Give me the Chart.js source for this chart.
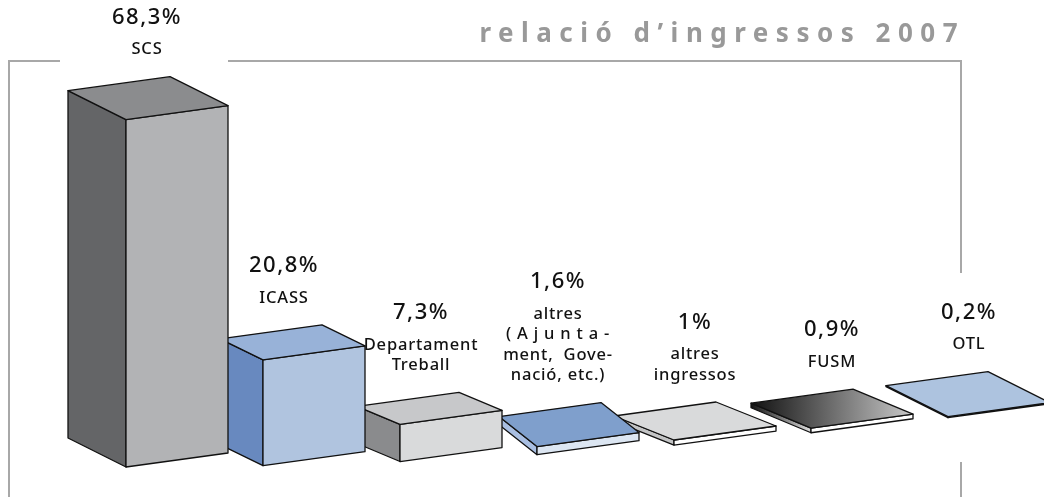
<!DOCTYPE html>
<html>
<head>
<meta charset="utf-8">
<title>relació d'ingressos 2007</title>
<script src="https://cdn.jsdelivr.net/npm/chart.js@4.4.1/dist/chart.umd.min.js"></script>
<style>
  body { margin: 0; background: #ffffff; }
  #wrap { width: 1044px; height: 497px; }
</style>
</head>
<body>
<div id="wrap"><canvas id="ingressosChart" width="1044" height="497"></canvas></div>
<script>
// data
const categories = ["SCS", "ICASS", "Departament Treball", "altres (Ajuntament, Governació, etc.)", "altres ingressos", "FUSM", "OTL"];
const labelLines = [
    ["SCS"],
    ["ICASS"],
    ["Departament", "Treball"],
    ["altres", "( A j u n t a -", "ment,  Gove-", "nació, etc.)"],
    ["altres", "ingressos"],
    ["FUSM"],
    ["OTL"]
];
const percentages = [68.3, 20.8, 7.3, 1.6, 1, 0.9, 0.2];
const chartTitle = "relació d’ingressos 2007";

// styles: [left face, front face, top face]; arrays of two colours are gradients
const faceColors = [
    ["#646567", "#b2b3b5", "#8b8c8e"],
    ["#6889bf", "#b0c4df", "#98b2d8"],
    ["#8a8b8d", "#d9dadb", "#c7c8ca"],
    ["#a9bfe2", "#dce6f2", "#7f9fcc"],
    ["#c3c4c5", "#ffffff", "#d9dadb"],
    [["#111111", "#dddddd"], "#ffffff", ["#111111", "#c9c9c9"]],
    ["#8aa5cc", "#ffffff", "#adc3df"]
];
const depthVec = [[-58, -29], [-43, -21], [-43, -18], [-38, -30], [-60, -24], [-60, -25], [-62, -31]];
const sideVec = [102, -14];

function percentText(v) {
    return String(v).replace(".", ",") + "%";
}

function fillFor(ctx, c, xa, xb) {
    if (!Array.isArray(c)) return c;
    const g = ctx.createLinearGradient(xa, 0, xb, 0);
    g.addColorStop(0, c[0]);
    g.addColorStop(1, c[1]);
    return g;
}

function poly(ctx, pts, fill) {
    ctx.beginPath();
    ctx.moveTo(pts[0][0], pts[0][1]);
    for (let i = 1; i < pts.length; i++) ctx.lineTo(pts[i][0], pts[i][1]);
    ctx.closePath();
    ctx.fillStyle = fill;
    ctx.fill();
    ctx.stroke();
}

const framePlugin = {
    id: "frameAndTitle",
    beforeDatasetsDraw(chart) {
        const ctx = chart.ctx;
        ctx.save();
        ctx.strokeStyle = "#a8a8a8";
        ctx.lineWidth = 2;
        ctx.beginPath();
        ctx.moveTo(60, 61); ctx.lineTo(9, 61); ctx.lineTo(9, 497);
        ctx.moveTo(228, 61); ctx.lineTo(961, 61); ctx.lineTo(961, 273);
        ctx.moveTo(961, 462); ctx.lineTo(961, 497);
        ctx.stroke();

        ctx.font = "bold 26px 'Noto Sans'";
        ctx.letterSpacing = "7.5px";
        ctx.fillStyle = "#999999";
        ctx.textAlign = "right";
        ctx.textBaseline = "alphabetic";
        ctx.fillText(chartTitle, 965, 42);
        ctx.restore();
    }
};

const boxPlugin = {
    id: "boxes3d",
    afterDatasetsDraw(chart) {
        const ctx = chart.ctx;
        const bars = chart.getDatasetMeta(0).data;
        const x0 = bars[0].x;
        ctx.save();
        ctx.strokeStyle = "#111111";
        ctx.lineWidth = 1.3;
        ctx.lineJoin = "round";

        // draw from right to left so nearer bars cover farther ones
        for (let i = bars.length - 1; i >= 0; i--) {
            const bar = bars[i];
            const lift = 7.3e-5 * Math.pow(bar.x - x0, 2);
            const fx = bar.x;
            const fb = bar.base - lift;
            const ft = bar.y - lift;
            const d = depthVec[i];
            const r = sideVec;
            const col = faceColors[i];

            const F = [fx, fb], T = [fx, ft];
            const add = (p, v) => [p[0] + v[0], p[1] + v[1]];

            poly(ctx, [F, add(F, d), add(T, d), T], fillFor(ctx, col[0], fx + d[0], fx));
            poly(ctx, [F, add(F, r), add(T, r), T], fillFor(ctx, col[1], fx, fx + r[0]));
            poly(ctx, [T, add(T, d), add(add(T, d), r), add(T, r)], fillFor(ctx, col[2], fx + d[0], fx + r[0]));

            // labels above the bar
            const backY = ft + d[1] + r[1];
            const cx = fx + 21;
            const lines = labelLines[i];
            const lastY = backY - 27;
            const firstY = lastY - (lines.length - 1) * 20.5;

            ctx.fillStyle = "#111111";
            ctx.textAlign = "center";
            ctx.textBaseline = "middle";
            ctx.font = "500 16.5px 'Noto Sans'";
            ctx.letterSpacing = "0.8px";
            lines.forEach((ln, k) => ctx.fillText(ln, cx, firstY + k * 20.5));

            ctx.font = "500 22px 'Noto Sans'";
            ctx.letterSpacing = "1.5px";
            ctx.fillText(percentText(percentages[i]), cx, firstY - 32);
        }
        ctx.restore();
    }
};

const ctx = document.getElementById("ingressosChart");

new Chart(ctx, {
    type: "bar",
    data: {
        labels: categories,
        datasets: [{
            label: "relació d'ingressos 2007 (%)",
            data: percentages,
            backgroundColor: "rgba(0,0,0,0)",
            borderWidth: 0,
            categoryPercentage: 1,
            barPercentage: 0.02
        }]
    },
    options: {
        responsive: false,
        animation: false,
        devicePixelRatio: 1,
        layout: {
            padding: { left: 57.5, right: 27.5, top: 111, bottom: 30 }
        },
        plugins: {
            legend: { display: false },
            tooltip: { enabled: false },
            title: { display: false }
        },
        scales: {
            x: { display: false },
            y: { display: false, min: 0, max: 70 }
        }
    },
    plugins: [framePlugin, boxPlugin]
});
</script>
</body>
</html>
